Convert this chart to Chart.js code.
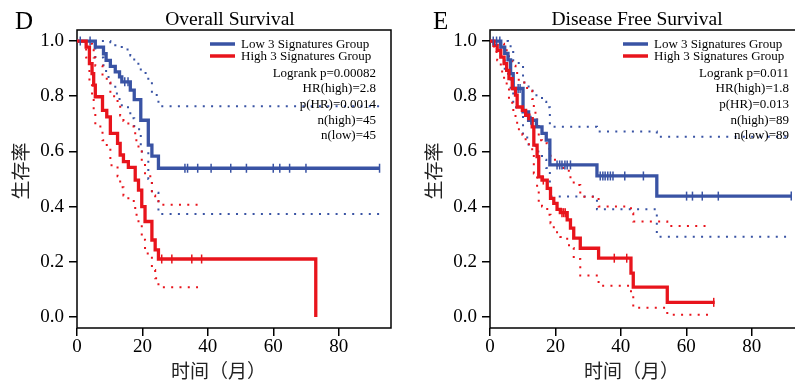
<!DOCTYPE html>
<html>
<head>
<meta charset="utf-8">
<script src="https://cdn.jsdelivr.net/npm/chart.js@4.4.1/dist/chart.umd.min.js"></script>
<style>
  html, body { margin: 0; padding: 0; width: 795px; height: 384px; overflow: hidden; background: #fff; }
  canvas { position: absolute; top: 0; }
  #osChart { left: 0; }
  #dfsChart { left: 413px; }
</style>
</head>
<body>
<canvas id="osChart" width="412" height="384"></canvas>
<canvas id="dfsChart" width="412" height="384"></canvas>
<script>
const xTicks = [0, 20, 40, 60, 80];
const yTicks = [0, 0.2, 0.4, 0.6, 0.8, 1.0];
const groupNames = ["Low 3 Signatures Group", "High 3 Signatures Group"];

// D - Overall Survival
const osTimeLow  = [0, 5.6, 8.1, 8.9, 10.2, 11.7, 13.0, 13.7, 16.3, 17.5, 19.5, 21.8, 22.9, 24.9, 92.5];
const osSurvLow  = [1, 0.978, 0.954, 0.930, 0.908, 0.888, 0.870, 0.852, 0.822, 0.788, 0.713, 0.623, 0.583, 0.539, 0.539];
const osUpperLow = [1, 1, 1, 1, 0.996, 0.985, 0.978, 0.969, 0.948, 0.918, 0.884, 0.852, 0.804, 0.764, 0.764];
const osLowerLow = [1, 0.94, 0.90, 0.87, 0.84, 0.81, 0.78, 0.76, 0.72, 0.68, 0.60, 0.50, 0.45, 0.373, 0.373];
const osCensorLow = [1, 4, 14.6, 15.6, 33, 33.8, 36.9, 41, 47, 51.8, 60, 62, 65, 70, 92.5];

const osTimeHigh = [0, 2.8, 3.8, 4.6, 5.1, 5.6, 7.8, 9.1, 10.2, 12.4, 13.2, 14.2, 15.7, 17.8, 18.8, 19.8, 20.8, 22.9, 23.9, 24.9, 73.0];
const osSurvHigh = [1, 0.978, 0.918, 0.882, 0.84, 0.798, 0.749, 0.725, 0.665, 0.629, 0.587, 0.563, 0.542, 0.496, 0.46, 0.40, 0.346, 0.279, 0.243, 0.21, 0];
const osCiTimeHigh = [0, 2.8, 3.8, 4.6, 5.1, 5.6, 7.8, 9.1, 10.2, 12.4, 13.2, 14.2, 15.7, 17.8, 18.8, 19.8, 20.8, 22.9, 23.9, 24.9, 37];
const osUpperHigh = [1, 1, 0.99, 0.97, 0.94, 0.91, 0.87, 0.85, 0.80, 0.77, 0.73, 0.71, 0.69, 0.64, 0.61, 0.56, 0.51, 0.44, 0.42, 0.407, 0.407];
const osLowerHigh = [1, 0.94, 0.84, 0.79, 0.74, 0.69, 0.64, 0.61, 0.55, 0.51, 0.47, 0.44, 0.42, 0.37, 0.34, 0.28, 0.23, 0.17, 0.14, 0.108, 0.108];
const osCensorHigh = [25.9, 29, 35.1, 38.1];
const osStats = ["Logrank p=0.00082", "HR(high)=2.8", "p(HR)=0.0014", "n(high)=45", "n(low)=45"];

// E - Disease Free Survival
const dfsTimeLow  = [0, 3.3, 4.5, 5.5, 6.3, 7.1, 10.1, 11.8, 14.2, 15.9, 17.2, 18.3, 32.7, 51.0, 92.1];
const dfsSurvLow  = [1, 0.978, 0.955, 0.932, 0.882, 0.828, 0.743, 0.713, 0.689, 0.665, 0.641, 0.551, 0.511, 0.438, 0.438];
const dfsUpperLow = [1, 1, 1, 0.99, 0.96, 0.92, 0.85, 0.82, 0.80, 0.78, 0.76, 0.689, 0.672, 0.653, 0.653];
const dfsLowerLow = [1, 0.94, 0.90, 0.87, 0.82, 0.76, 0.65, 0.62, 0.60, 0.57, 0.54, 0.437, 0.39, 0.291, 0.291];
const dfsCensorLow = [1, 2, 3, 8.6, 9.2, 12.5, 20.5, 21.3, 22, 22.9, 23.6, 24.6, 33.7, 34.5, 35.2, 36, 36.8, 37.6, 41.2, 46.9, 60.1, 61.9, 64.9, 69.8, 92.1];

const dfsTimeHigh = [0, 1.2, 2.2, 3.3, 4.3, 5.1, 5.8, 6.8, 7.8, 8.3, 9.9, 10.9, 11.9, 12.9, 13.4, 14.4, 14.9, 15.9, 17.5, 18.5, 19.5, 20.5, 21.5, 23.6, 24.6, 25.6, 27.6, 33.2, 43.1, 43.8, 54.2, 68.7];
const dfsSurvHigh = [1, 0.984, 0.966, 0.942, 0.918, 0.894, 0.864, 0.828, 0.804, 0.761, 0.749, 0.731, 0.719, 0.689, 0.623, 0.581, 0.508, 0.496, 0.466, 0.43, 0.412, 0.39, 0.378, 0.352, 0.322, 0.286, 0.249, 0.213, 0.159, 0.108, 0.053, 0.053];
const dfsCiTimeHigh = [0, 1.2, 2.2, 3.3, 4.3, 5.1, 5.8, 6.8, 7.8, 8.3, 9.9, 10.9, 11.9, 12.9, 13.4, 14.4, 14.9, 15.9, 17.5, 18.5, 19.5, 20.5, 21.5, 23.6, 24.6, 25.6, 27.6, 33.2, 43.1, 43.8, 54.2, 67];
const dfsUpperHigh = [1, 1, 1, 0.99, 0.98, 0.96, 0.94, 0.91, 0.89, 0.86, 0.85, 0.83, 0.82, 0.79, 0.74, 0.70, 0.64, 0.63, 0.61, 0.58, 0.57, 0.55, 0.54, 0.53, 0.50, 0.478, 0.436, 0.40, 0.376, 0.346, 0.33, 0.33];
const dfsLowerHigh = [1, 0.96, 0.93, 0.89, 0.86, 0.83, 0.79, 0.75, 0.72, 0.68, 0.66, 0.64, 0.62, 0.59, 0.52, 0.47, 0.41, 0.40, 0.37, 0.34, 0.32, 0.30, 0.29, 0.26, 0.25, 0.21, 0.15, 0.113, 0.08, 0.033, 0.008, 0.008];
const dfsCensorHigh = [16.3, 22, 22.5, 23, 38, 41.8, 68.4];
const dfsStats = ["Logrank p=0.011", "HR(high)=1.8", "p(HR)=0.013", "n(high)=89", "n(low)=89"];

const blue = "#3953a4";
const red = "#e8141c";
const serif = "'Liberation Serif', 'Times New Roman', serif";
const cjk = "'Noto Sans CJK SC', sans-serif";

function pts(times, vals) {
  return times.map((t, i) => ({ x: t, y: vals[i] }));
}

function survAt(times, vals, t) {
  let s = vals[0];
  for (let i = 0; i < times.length; i++) {
    if (times[i] <= t) s = vals[i];
  }
  return s;
}

function curve(data, color, dotted) {
  return {
    type: "line",
    data: data,
    borderColor: color,
    borderWidth: dotted ? 2 : 3.3,
    borderDash: dotted ? [2, 6.3] : [],
    stepped: "before",
    pointRadius: 0,
    fill: false,
    clip: false
  };
}

function censor(times, survTimes, survVals, color) {
  return {
    type: "scatter",
    data: times.map(t => ({ x: t, y: survAt(survTimes, survVals, t) })),
    borderColor: color,
    backgroundColor: color,
    pointStyle: "line",
    rotation: 90,
    pointRadius: 4.5,
    borderWidth: 1.5,
    showLine: false,
    clip: false
  };
}

const panelText = {
  id: "panelText",
  beforeDatasetsDraw(chart) {
    const a = chart.chartArea, ctx = chart.ctx;
    ctx.save();
    ctx.strokeStyle = "#000";
    ctx.lineWidth = 1.5;
    ctx.strokeRect(a.left, a.top, a.right - a.left, a.bottom - a.top);
    ctx.restore();
  },
  afterDraw(chart, args, o) {
    const a = chart.chartArea, ctx = chart.ctx;
    ctx.save();
    ctx.fillStyle = "#000";
    ctx.textBaseline = "alphabetic";

    ctx.font = "25px " + serif;
    ctx.textAlign = "left";
    ctx.fillText(o.letter, o.letterX, 28.5);

    ctx.font = "19.5px " + serif;
    ctx.textAlign = "center";
    ctx.fillText(o.title, o.titleX, 25);

    // axis titles
    ctx.fillStyle = "#222";
    ctx.font = "19px " + cjk;
    ctx.textAlign = "left";
    ctx.textBaseline = "middle";
    ctx.fillText("时间（月）", a.left + 94, 371);
    ctx.save();
    ctx.translate(a.left - 56, 171);
    ctx.rotate(-Math.PI / 2);
    ctx.textAlign = "center";
    ctx.fillText("生存率", 0, 0);
    ctx.restore();

    // legend
    ctx.fillStyle = "#000";
    ctx.font = "13px " + serif;
    const lx = a.right - 181;
    [blue, red].forEach((c, i) => {
      const y = 44 + i * 12;
      ctx.strokeStyle = c;
      ctx.lineWidth = 3.5;
      ctx.beginPath();
      ctx.moveTo(lx, y);
      ctx.lineTo(lx + 25, y);
      ctx.stroke();
      ctx.textAlign = "left";
      ctx.textBaseline = "middle";
      ctx.fillText(groupNames[i], lx + 31, y + 1);
    });

    ctx.textAlign = "right";
    ctx.textBaseline = "alphabetic";
    o.stats.forEach((s, i) => {
      ctx.fillText(s, a.right - 15, 76.5 + i * 15.7);
    });
    ctx.restore();
  }
};

function buildPanel(id, p) {
  const ctx = document.getElementById(id).getContext("2d");
  return new Chart(ctx, {
    data: {
      datasets: [
        censor(p.censorHigh, p.timeHigh, p.survHigh, red),
        censor(p.censorLow, p.timeLow, p.survLow, blue),
        curve(pts(p.timeHigh, p.survHigh), red, false),
        curve(pts(p.timeLow, p.survLow), blue, false),
        curve(pts(p.ciTimeHigh, p.upperHigh), red, true),
        curve(pts(p.ciTimeHigh, p.lowerHigh), red, true),
        curve(pts(p.timeLow, p.upperLow), blue, true),
        curve(pts(p.timeLow, p.lowerLow), blue, true)
      ]
    },
    options: {
      responsive: false,
      animation: false,
      devicePixelRatio: 1,
      layout: { padding: { left: 0, right: 21, top: 30, bottom: 0 } },
      plugins: {
        legend: { display: false },
        tooltip: { enabled: false },
        panelText: { letter: p.letter, letterX: p.letterX, title: p.title, titleX: p.titleX, stats: p.stats }
      },
      scales: {
        x: {
          type: "linear",
          min: 0,
          max: 96,
          afterBuildTicks: axis => { axis.ticks = xTicks.map(v => ({ value: v })); },
          afterFit: axis => { axis.height = 56; },
          border: { display: false },
          grid: { drawOnChartArea: false, drawTicks: true, tickLength: 8, color: "#000", lineWidth: 1.5 },
          ticks: { color: "#000", font: { family: serif, size: 19 }, padding: 0, maxRotation: 0, autoSkip: false, callback: v => v }
        },
        y: {
          type: "linear",
          min: -0.04,
          max: 1.04,
          afterBuildTicks: axis => { axis.ticks = yTicks.map(v => ({ value: v })); },
          afterFit: axis => { axis.width = 77; },
          border: { display: false },
          grid: { drawOnChartArea: false, drawTicks: true, tickLength: 8, color: "#000", lineWidth: 1.5 },
          ticks: { color: "#000", font: { family: serif, size: 19 }, padding: 5, autoSkip: false, callback: v => v.toFixed(1) }
        }
      }
    },
    plugins: [panelText]
  });
}

buildPanel("osChart", {
  letter: "D", letterX: 15, title: "Overall Survival", titleX: 230,
  timeLow: osTimeLow, survLow: osSurvLow, upperLow: osUpperLow, lowerLow: osLowerLow, censorLow: osCensorLow,
  timeHigh: osTimeHigh, survHigh: osSurvHigh, ciTimeHigh: osCiTimeHigh, upperHigh: osUpperHigh, lowerHigh: osLowerHigh, censorHigh: osCensorHigh,
  stats: osStats
});

buildPanel("dfsChart", {
  letter: "E", letterX: 20, title: "Disease Free Survival", titleX: 224,
  timeLow: dfsTimeLow, survLow: dfsSurvLow, upperLow: dfsUpperLow, lowerLow: dfsLowerLow, censorLow: dfsCensorLow,
  timeHigh: dfsTimeHigh, survHigh: dfsSurvHigh, ciTimeHigh: dfsCiTimeHigh, upperHigh: dfsUpperHigh, lowerHigh: dfsLowerHigh, censorHigh: dfsCensorHigh,
  stats: dfsStats
});
</script>
</body>
</html>
